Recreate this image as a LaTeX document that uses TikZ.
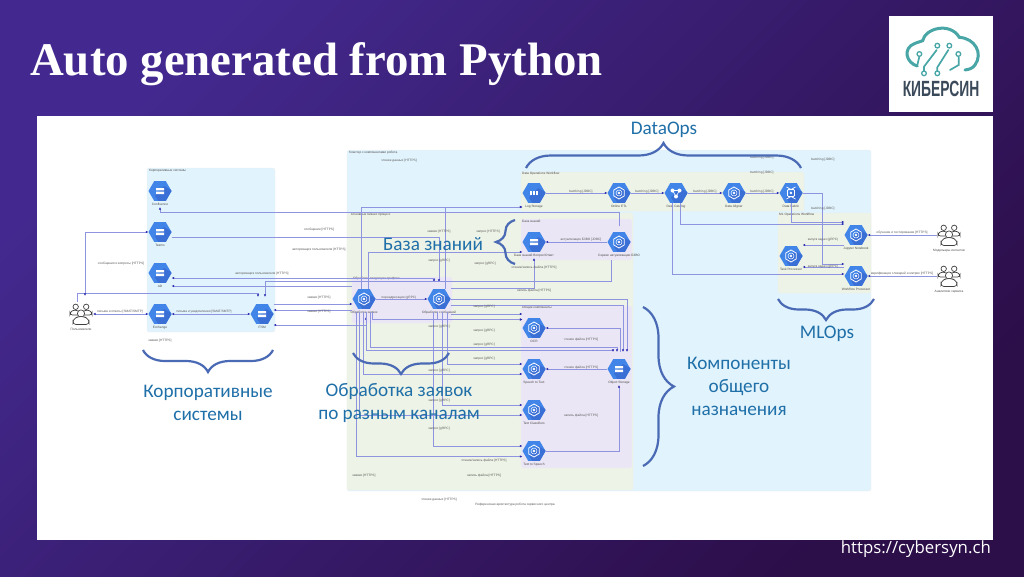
\documentclass[tikz,border=0pt]{standalone}
\usepackage{fontspec}
\usetikzlibrary{arrows.meta,shapes.geometric,decorations.pathreplacing}
\newfontfamily\titlefont{Liberation Serif}
\newfontfamily\bigfont{Carlito}
\newfontfamily\smallfont{Liberation Sans}
\newfontfamily\urlfont{Open Sans}
\definecolor{bgtop}{HTML}{43298F}
\definecolor{bgbottom}{HTML}{2C0E49}
\definecolor{skyfill}{HTML}{E1F3FC}
\definecolor{greenfill}{HTML}{EDF3E6}
\definecolor{lilacfill}{HTML}{EBE6F5}
\definecolor{hexblue}{HTML}{4285E8}
\definecolor{hexdark}{HTML}{3A6FD6}
\definecolor{linkcolor}{HTML}{8F94E0}
\definecolor{tipcolor}{HTML}{2A2AB0}
\definecolor{bracecolor}{HTML}{4A6AB5}
\definecolor{bigtext}{HTML}{1F6FA8}
\definecolor{teal}{HTML}{48A6A6}
\definecolor{logotext}{HTML}{3B4A5A}
\newcommand{\hexshade}{\fill[hexdark,shift={(path picture bounding box.center)}] (4,-5) -- (13,0) -- (13,11) -- (-1,11) -- (-5,4.5) -- cycle;}
\newcommand{\icobars}{\fill[white,shift={(path picture bounding box.center)}] (-4,-3) rectangle (4,-0.6) (-4,0.6) rectangle (4,3);}
\newcommand{\icoring}{\begin{scope}[shift={(path picture bounding box.center)}]
	\draw[white,line width=.8pt,line join=round] (90:6) -- (30:6) -- (-30:6) -- (-90:6) -- (-150:6) -- (150:6) -- cycle;
	\draw[white,line width=.5pt] (0,0) circle (3);
	\fill[white] (0,0) circle (1.3);
	\end{scope}}
\newcommand{\icogrid}{\begin{scope}[shift={(path picture bounding box.center)}]
	\foreach \gx in {-3,0,3} \foreach \gy in {-1.4,1.4} \fill[white] (\gx-1,\gy-1) rectangle (\gx+1,\gy+1);
	\end{scope}}
\newcommand{\icotree}{\begin{scope}[shift={(path picture bounding box.center)}]
	\draw[white,line width=.6pt] (-3.5,-2.5) -- (3.5,-2.5) -- (0,3.5) -- cycle;
	\fill[white] (-3.5,-2.5) circle (2) (3.5,-2.5) circle (2) (0,3.5) circle (2);
	\end{scope}}
\newcommand{\icofabric}{\begin{scope}[shift={(path picture bounding box.center)}]
	\draw[white,line width=.7pt] (-4.5,-6) -- (0,-3.5) -- (4.5,-6) (-4.5,6) -- (0,3.5) -- (4.5,6);
	\draw[white,line width=.8pt,rounded corners=1pt] (-3.5,-3.5) rectangle (3.5,3.5);
	\fill[white] (0,0) circle (1.4);
	\end{scope}}
\newcommand{\icopeople}{\begin{scope}[shift={(path picture bounding box.center)},draw=black!75,line width=.7pt,fill=white]
	\draw (-5.3,-7.2) circle (2.7);
	\draw (5.2,-7.2) circle (2.7);
	\draw[rounded corners=2.5pt,fill=white] (-11,1) -- (-11,-2) -- (-6,-4.4) -- (-1,-2) -- (-1,1) -- cycle;
	\draw[rounded corners=2.5pt,fill=white] (1,1) -- (1,-2) -- (6,-4.4) -- (11,-2) -- (11,1) -- cycle;
	\draw[fill=white] (0,-.5) circle (3.6);
	\draw[rounded corners=3pt,fill=white] (-8,10.5) -- (-8,5.5) -- (-3,2.5) -- (3,2.5) -- (8,5.5) -- (8,10.5) -- cycle;
	\end{scope}}
\tikzset{
	hexbase/.style={regular polygon,regular polygon sides=6,inner sep=0pt,minimum size=23pt,fill=hexblue},
	storehex/.style={hexbase,path picture={\hexshade\icobars}},
	kubehex/.style={hexbase,path picture={\hexshade\icoring}},
	gridhex/.style={hexbase,path picture={\hexshade\icogrid}},
	treehex/.style={hexbase,path picture={\hexshade\icotree}},
	fabrichex/.style={hexbase,path picture={\hexshade\icofabric}},
	people/.style={rectangle,inner sep=0pt,minimum size=24pt,path picture={\icopeople}},
	caption/.style={font=\fontsize{3.2}{4}\smallfont,text=black!70,inner sep=2pt},
	edgelabel/.style={font=\fontsize{3.2}{4}\smallfont,text=black!65,inner sep=0pt},
	paneltitle/.style={font=\fontsize{3.2}{4}\smallfont,text=black!70,inner sep=0pt,anchor=west},
	panel/.style={rectangle,rounded corners=2pt,inner sep=0pt,draw=black!6,line width=.3pt,fill=#1},
	link/.style={draw=linkcolor,line width=.65pt},
	flow/.style={link,-{Latex[length=2.4pt,width=2.4pt,color=tipcolor]}},
	biflow/.style={link,{Latex[length=2.4pt,width=2.4pt,color=tipcolor]}-{Latex[length=2.4pt,width=2.4pt,color=tipcolor]}},
	gapend/.style={shorten >=#1},
	gapstart/.style={shorten <=#1},
	bigbrace/.style={draw=bracecolor,line width=2.2pt,decorate,decoration={brace,amplitude=#1}},
	biglabel/.style={font=\fontsize{19.2}{23}\bigfont,text=bigtext,align=center,inner sep=0pt}
}
\begin{document}
\begin{tikzpicture}[x=1pt,y=-1pt]
	\useasboundingbox (0,0) rectangle (1024,576);
	\shade[top color=bgtop,bottom color=bgbottom,shading angle=45] (0,0) rectangle (1024,576);
	\fill[white] (37,116) rectangle (993,540);
	\node[font=\fontsize{46.8}{50}\titlefont\bfseries,text=white,anchor=base west,inner sep=0pt] (title) at (30,75) {Auto generated from Python};
	\node[font=\fontsize{16.8}{20}\urlfont,text=white,anchor=east,inner sep=0pt] (site) at (991,549) {https://cybersyn.ch};
	% logo
	\fill[white] (889,16) rectangle (993,112);
	\begin{scope}[shift={(880,10)},x=.3333pt,y=-.3333pt,draw=teal,line width=3pt,line cap=round]
		\draw (112,168) .. controls (80,160) and (65,115) .. (105,100) .. controls (115,96) and (122,95) .. (128,92) .. controls (135,55) and (210,35) .. (238,82) .. controls (285,85) and (310,130) .. (285,165) .. controls (278,175) and (268,178) .. (255,180);
		\draw[line width=1.7pt] (132,188) -- (132,170) -- (170,120);
		\draw[line width=1.7pt] (172,188) -- (172,172) -- (205,120);
		\draw[line width=1.7pt] (118,140) -- (112,165);
		\draw[line width=1.7pt] (236,142) -- (236,165) -- (210,180);
		\foreach \cx/\cy in {132/190,172/190,172/107,208/107,118/132,235/132} \draw[line width=1.3pt,fill=white] (\cx,\cy) circle (7);
		\node[font=\fontsize{22}{24}\smallfont\bfseries,text=logotext,xscale=.63,inner sep=0pt] (logoname) at (183,237) {КИБЕРСИН};
	\end{scope}
	% panels
	\node[panel=skyfill,minimum width=128pt,minimum height=164pt] (corp) at (211,250) {};
	\node[panel=skyfill,minimum width=524pt,minimum height=341pt] (cluster) at (609,320.5) {};
	\node[panel=greenfill,minimum width=283pt,minimum height=39pt] (dataflow) at (662.5,191.5) {};
	\node[panel=greenfill,minimum width=93pt,minimum height=80pt] (mlflow) at (824.5,253) {};
	\node[panel=greenfill,minimum width=286pt,minimum height=277pt] (mainproc) at (490,351.5) {};
	\node[panel=lilacfill,minimum width=111pt,minimum height=41pt] (kb) at (576.5,239.5) {};
	\node[panel=lilacfill,minimum width=100pt,minimum height=46pt] (inbound) at (402,300) {};
	\node[panel=lilacfill,minimum width=111pt,minimum height=162pt] (common) at (576.5,387) {};
	\node[paneltitle] (corpname) at (149,171) {Корпоративные системы};
	\node[paneltitle] (clustername) at (349,153) {Кластер с компонентами робота};
	\node[paneltitle] (dataname) at (522,173.5) {Data Operations Workflow};
	\node[paneltitle] (mlname) at (779,215) {ML Operations Workflow};
	\node[paneltitle] (mainname) at (351,215) {Основные бизнес процесс};
	\node[paneltitle] (kbname) at (522,221.5) {База знаний};
	\node[paneltitle] (inboundname) at (353,279) {Обработка входящего трафика};
	\node[paneltitle] (commonname) at (522,308) {Общие компоненты};
	% nodes
	\node[people,label={[caption]below:Пользователи}] (users) at (81,314) {};
	\node[storehex,label={[caption]below:Confluence}] (confl) at (160,191) {};
	\node[storehex,label={[caption]below:Teams}] (teams) at (160,232) {};
	\node[storehex,label={[caption]below:AD}] (ad) at (160,273) {};
	\node[storehex,label={[caption]below:Exchange}] (exch) at (160,314) {};
	\node[storehex,label={[caption]below:ITSM}] (itsm) at (262,314) {};
	\node[gridhex,label={[caption]below:Log Storage}] (logst) at (534,193) {};
	\node[kubehex,label={[caption]below:Online ETL}] (etl) at (619,193) {};
	\node[treehex,label={[caption]below:Data Catalog}] (catalog) at (676,193) {};
	\node[kubehex,label={[caption]below:Data Aligner}] (aligner) at (734,193) {};
	\node[fabrichex,label={[caption]below:Data Fabric}] (fabric) at (791,193) {};
	\node[kubehex,label={[caption]below:Jupyter Notebook}] (jupyter) at (856,235) {};
	\node[kubehex,label={[caption]below:Task Processor}] (taskpr) at (791,256) {};
	\node[kubehex,label={[caption]below:Workflow Processor}] (wflow) at (856,276) {};
	\node[people,label={[caption]below:Модельеры интентов}] (modelers) at (949,235) {};
	\node[people,label={[caption]below:Аналитики сервиса}] (analysts) at (949,276) {};
	\node[storehex,label={[caption]below:База знаний Вопрос/Ответ}] (kbase) at (534,242) {};
	\node[kubehex,label={[caption]below:Сервис актуализации БЗВО}] (actual) at (619,242) {};
	\node[kubehex,label={[caption]below:Обработка заявок}] (zay) at (364,299) {};
	\node[kubehex,label={[caption]below:Обработка сообщений}] (soob) at (439,299) {};
	\node[kubehex,label={[caption]below:OCR}] (ocr) at (534,328) {};
	\node[kubehex,label={[caption]below:Speech to Text}] (stt) at (534,369) {};
	\node[kubehex,label={[caption]below:Text Classifiers}] (classif) at (534,410) {};
	\node[kubehex,label={[caption]below:Text to Speech}] (tts) at (534,451) {};
	\node[storehex,label={[caption]below:Object Storage}] (objst) at (619,369) {};
	% enterprise systems
	\draw[biflow] (users.east) -- (exch.west);
	\draw[biflow] (exch.east) -- (itsm.west);
	\draw[flow,gapend=7pt] ([xshift=-4pt]users.north) |- (258,293) -- ([xshift=-4pt]itsm.north);
	\draw[biflow,gapend=6pt] (teams.west) -| ([xshift=4pt]users.north);
	\draw[flow,gapend=7pt] ([yshift=-5pt]teams.east) -| (soob.north);
	\draw[flow,gapstart=6pt,gapend=6pt] (actual.north) |- (160,212.5) -- (confl.south);
	\draw[biflow,gapstart=7pt] ([xshift=-5pt]soob.north) |- ([yshift=-5pt]ad.east);
	\draw[flow] ([yshift=14pt]inbound.west) -- ([yshift=-13pt]ad.east);
	\draw[flow,gapstart=8pt,gapend=7pt] ([xshift=-8pt]actual.south) |- (265,281) -- ([xshift=3pt]itsm.north);
	\draw[flow] ([yshift=10pt]itsm.east) -- ([yshift=-5pt]zay.west);
	\draw[flow] ([yshift=-11pt]zay.west) -- ([yshift=4pt]itsm.east);
	\draw[biflow,gapstart=8pt] ([xshift=2pt]zay.south) |- ([yshift=-11pt]itsm.east);
	\draw[flow] (zay.east) -- (soob.west);
	% log storage and knowledge base
	\draw[flow] ([xshift=-3pt]zay.north) |- ([yshift=-14pt]logst.west);
	\draw[flow] ([xshift=6pt]soob.north) |- ([yshift=-14pt]logst.west);
	\draw[flow] ([xshift=4pt]zay.north) |- ([yshift=-10pt]kbase.west);
	\draw[flow,gapend=6pt] ([yshift=11pt]soob.east) -| (kbase.south);
	\draw[flow] (actual.west) -- (kbase.east);
	% object storage
	\draw[flow,gapend=7pt] (soob.east) -| ([xshift=8pt]objst.north);
	\draw[flow,gapend=7pt] ([yshift=-6.5pt]soob.east) -| ([xshift=4pt]objst.north);
	\draw[flow,gapstart=7pt] ([xshift=1.5pt]objst.north) |- (ocr.east);
	\draw[flow,gapstart=3pt,gapend=7pt] ([xshift=6pt]zay.south) |- (617,347) -- ([xshift=-2pt]objst.north);
	\draw[flow,gapstart=3pt,gapend=7pt] ([xshift=2pt]zay.south) |- (613,350) -- ([xshift=-6pt]objst.north);
	\draw[flow,gapend=6pt] (tts.east) -| (objst.south);
	\draw[flow] (objst.west) -- (stt.east);
	% common components
	\draw[flow,gapstart=3pt] ([xshift=-8pt]zay.south) |- ([yshift=-5.5pt]tts.west);
	\draw[flow,gapstart=3pt] ([xshift=-5pt]zay.south) |- ([yshift=-5pt]classif.west);
	\draw[flow,gapstart=3pt] ([xshift=-1pt]zay.south) |- ([yshift=-5pt]stt.west);
	\draw[flow,gapstart=3pt] ([xshift=8pt]zay.south) |- ([yshift=8.5pt]ocr.west);
	\draw[flow,gapstart=3pt] ([xshift=-6pt]soob.south) |- ([yshift=5pt]tts.west);
	\draw[flow,gapstart=3pt] ([xshift=3pt]soob.south) |- ([yshift=5pt]classif.west);
	\draw[flow,gapstart=3pt] ([xshift=8pt]soob.south) |- ([yshift=5pt]stt.west);
	\draw[flow,gapstart=3pt] ([xshift=-1.3pt]soob.south) |- ([yshift=8.5pt]ocr.west);
	\draw[flow] ([yshift=-15pt]soob.east) -- ([yshift=14pt]ocr.west);
	% data and ml workflows
	\draw[flow] (logst.east) -- (etl.west);
	\draw[flow] (etl.east) -- (catalog.west);
	\draw[flow] (catalog.east) -- (aligner.west);
	\draw[flow] (aligner.east) -- (fabric.west);
	\draw[flow] (fabric.east) -- ++(20,0) |- ([yshift=12pt]wflow.west);
	\draw[flow] (fabric.south) |- ([yshift=13pt]jupyter.west);
	\draw[flow] ([xshift=4pt]catalog.south) |- ([yshift=11pt]jupyter.west);
	\draw[flow] ([xshift=-4pt]catalog.south) |- ([yshift=2pt]wflow.west);
	\draw[flow] ([yshift=-10pt]jupyter.west) -- ([yshift=11pt]taskpr.east);
	\draw[flow] ([yshift=9pt]wflow.west) -- ([yshift=-11pt]taskpr.east);
	\draw[flow] (modelers.west) -- (jupyter.east);
	\draw[flow] (analysts.west) -- (wflow.east);
	% connector labels
	\foreach \lx/\ly [count=\i] in {581/192,647/192,705/192,762/192,762/173,762/158,823/160,823/209}
		\node[edgelabel] (batch\i) at (\lx,\ly) {batching [JDBC]};
	\foreach \lx/\ly [count=\i] in {439/261,485/264,484/307,439/327,484/331,484/345,484/359,439/371,439/401,439/429}
		\node[edgelabel] (grpc\i) at (\lx,\ly) {запрос [gRPC]};
	\foreach \lx/\ly [count=\i] in {319/298,319/312,160/341,364/476,439/232}
		\node[edgelabel] (ticket\i) at (\lx,\ly) {заявки [HTTPS]};
	\foreach \lx/\ly [count=\i] in {581/340,581/368}
		\node[edgelabel] (readf\i) at (\lx,\ly) {чтение файла [HTTPS]};
	\foreach \lx/\ly [count=\i] in {534/291,581/416,484/476}
		\node[edgelabel] (writef\i) at (\lx,\ly) {запись файла [HTTPS]};
	\foreach \lx/\ly [count=\i] in {534/268,484/461}
		\node[edgelabel] (rwf\i) at (\lx,\ly) {чтение/запись файла [HTTPS]};
	\foreach \lx/\ly [count=\i] in {399/161,439/500}
		\node[edgelabel] (readd\i) at (\lx,\ly) {чтение данных [HTTPS]};
	\foreach \lx/\ly [count=\i] in {319/250,262/274}
		\node[edgelabel] (auth\i) at (\lx,\ly) {авторизация пользователя [HTTPS]};
	\foreach \lx/\ly [count=\i] in {823/240,823/267}
		\node[edgelabel] (task\i) at (\lx,\ly) {запуск задач (gRPC)};
	\node[edgelabel] (msg) at (319,230) {сообщение [HTTPS]};
	\node[edgelabel] (ask) at (121,264) {сообщения и вопросы [HTTPS]};
	\node[edgelabel] (mail) at (120,312) {письма и ответы [SMAT/SMTP]};
	\node[edgelabel] (notify) at (204,312) {письма и уведомления [SMAT/SMTP]};
	\node[edgelabel] (forward) at (399,298) {переадресация (gRPC)};
	\node[edgelabel] (query) at (488,232) {запрос [HTTPS]};
	\node[edgelabel] (update) at (581,240) {актуализация БЗВО [JDBC]};
	\node[edgelabel] (train) at (902,233) {обучение и тестирование [HTTPS]};
	\node[edgelabel] (verify) at (902,274) {верификация словарей и метрик [HTTPS]};
	\node[edgelabel] (ref) at (515,505) {Референсная архитектура робота сервисного центра};
	% braces
	\draw[bigbrace=22pt] (273,350) -- (143,350);
	\draw[bigbrace=21pt] (449,353) -- (353,353);
	\draw[bigbrace=19pt] (515,264) -- (515,220);
	\draw[bigbrace=31pt] (643,307) -- (643,466);
	\draw[bigbrace=25pt] (526,168) -- (801,168);
	\draw[bigbrace=21pt] (874,299) -- (778,299);
	\node[biglabel] (dataops) at (664,130) {DataOps};
	\node[biglabel] (mlops) at (827,334) {MLOps};
	\node[biglabel] (kbtitle) at (433,244) {База знаний};
	\node[biglabel] (commontitle) at (739,386) {Компоненты\\общего\\назначения};
	\node[biglabel] (corptitle) at (208,402.5) {Корпоративные\\системы};
	\node[biglabel] (requesttitle) at (399,403.5) {Обработка заявок\\по разным каналам};
\end{tikzpicture}
\end{document}
